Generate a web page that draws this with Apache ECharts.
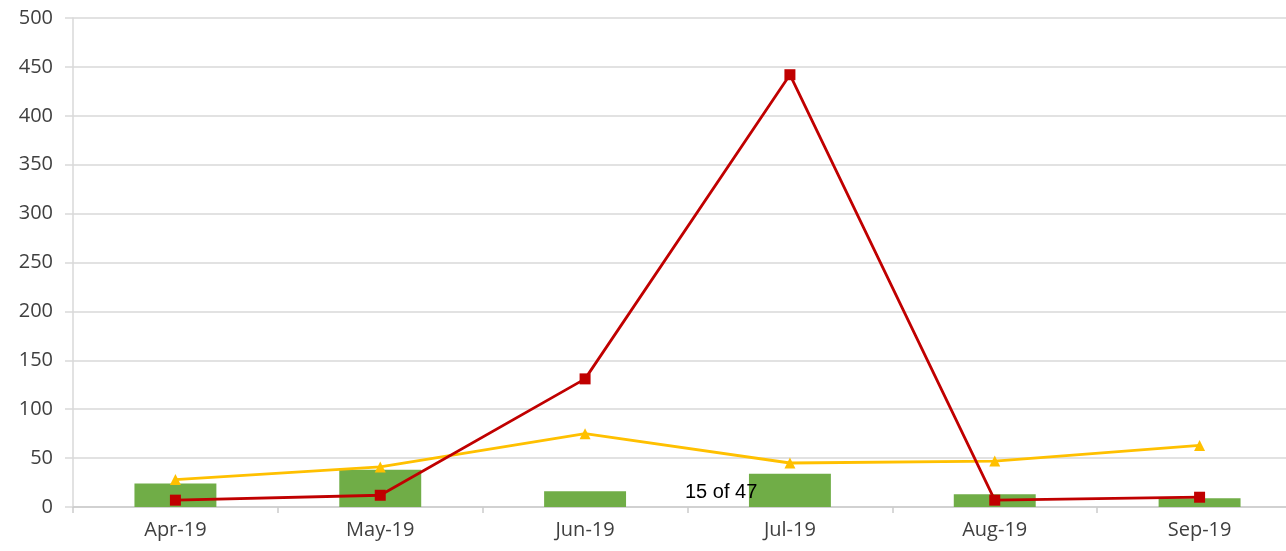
<!DOCTYPE html>
<html><head><meta charset="utf-8">
<script src="https://cdn.jsdelivr.net/npm/echarts@6/dist/echarts.min.js"></script>
<style>html,body{margin:0;padding:0;background:#fff}#c{width:1286px;height:551px}</style>
</head><body><div id="c"></div>
<script>
const categories = ['Apr-19','May-19','Jun-19','Jul-19','Aug-19','Sep-19'];
const barValues = [24, 38, 16, 34, 13, 9];
const redValues = [7, 12, 131, 442, 7, 10];
const yellowValues = [28, 41, 75, 45, 47, 63];
const pageLabel = '15 of 47';

const chart = echarts.init(document.getElementById('c'));
const lbl = {color:'#404040', fontFamily:'Open Sans', fontSize:20};
chart.setOption({
  animation:false,
  grid:{left:73, width:1229, top:18, height:489, containLabel:false, outerBoundsMode:'none'},
  xAxis:{type:'category', data:categories,
    axisLine:{lineStyle:{color:'#cccccc', width:1.5}},
    axisTick:{show:true, length:6, lineStyle:{color:'#cccccc', width:1.5}},
    axisLabel:Object.assign({margin:13}, lbl)},
  yAxis:{type:'value', min:0, max:500, interval:50,
    axisLine:{show:true, lineStyle:{color:'#d9d9d9', width:1.5}},
    axisTick:{show:true, length:8, lineStyle:{color:'#d9d9d9', width:1.5}},
    splitLine:{lineStyle:{color:'#d9d9d9', width:1.5}},
    axisLabel:Object.assign({margin:20}, lbl)},
  series:[
    {type:'bar', data:barValues, barWidth:'40%', itemStyle:{color:'#70AD47'}},
    {type:'line', data:yellowValues, symbol:'triangle', symbolSize:11,
      lineStyle:{color:'#FFC000', width:2.8}, itemStyle:{color:'#FFC000'}},
    {type:'line', data:redValues, symbol:'rect', symbolSize:11,
      lineStyle:{color:'#C00000', width:2.8}, itemStyle:{color:'#C00000'}}
  ],
  graphic:[{type:'text', left:685, top:482, z:100,
    style:{text:pageLabel, fill:'#000', font:'20px "Liberation Sans", Arial'}}]
});
</script></body></html>
